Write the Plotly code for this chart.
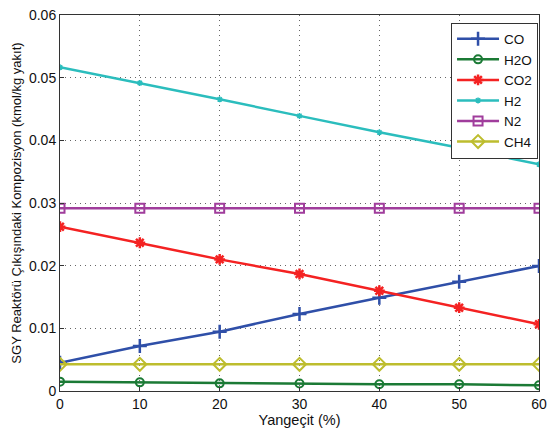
import plotly.graph_objects as go

x_vals = [0, 10, 20, 30, 40, 50, 60]
co = [0.00452, 0.00718, 0.00946, 0.0123, 0.01489, 0.01744, 0.01995]
h2o = [0.00149, 0.00138, 0.00122, 0.00120, 0.00107, 0.00107, 0.00090]
co2 = [0.02622, 0.02366, 0.02100, 0.01867, 0.01600, 0.01329, 0.01064]
h2 = [0.05165, 0.04915, 0.04655, 0.04390, 0.04128, 0.03880, 0.03617]
n2 = [0.02915, 0.02915, 0.02915, 0.02915, 0.02915, 0.02915, 0.02915]
ch4 = [0.00426, 0.00426, 0.00426, 0.00426, 0.00426, 0.00426, 0.00426]

series = [
    ("CO", co, "#2F4FA8", "cross-thin-open", 10, 2.5),
    ("H2O", h2o, "#1B7A35", "circle-open", 8, 2),
    ("CO2", co2, "#F42222", "asterisk-open", 9, 2.5),
    ("H2", h2, "#2BBDBD", "asterisk-open", 5, 1.5),
    ("N2", n2, "#A03D9C", "square-open", 9, 2),
    ("CH4", ch4, "#BDBD2E", "diamond-open", 10, 2),
]

fig = go.Figure()
for name, vals, color, sym, size, lw in series:
    fig.add_trace(go.Scatter(
        x=x_vals, y=vals, name=name, mode="lines+markers",
        line=dict(color=color, width=2.5),
        marker=dict(symbol=sym, size=size, color=color,
                    line=dict(color=color, width=lw)),
    ))

fig.update_layout(
    width=548, height=434,
    margin=dict(l=60, r=9, t=15, b=43),
    paper_bgcolor="white", plot_bgcolor="white",
    font=dict(family="Liberation Sans, Arial, sans-serif", size=14, color="#111111"),
    showlegend=True,
    legend=dict(x=0.998, y=0.98, xanchor="right", yanchor="top",
                bordercolor="#333333", borderwidth=1, bgcolor="white",
                font=dict(size=13.5), tracegroupgap=0, itemwidth=42),
)
fig.update_xaxes(
    range=[0, 60], tickvals=[0, 10, 20, 30, 40, 50, 60],
    showgrid=True, gridcolor="#666666", griddash="1px,4px", gridwidth=1,
    showline=True, linecolor="#333333", linewidth=1, mirror=True,
    ticks="inside", ticklen=4, tickcolor="#333333",
    zeroline=False, automargin=False, ticklabeloverflow="allow",
    title=dict(text="Yangeçit (%)", font=dict(size=14.5), standoff=2),
)
fig.update_yaxes(
    range=[0, 0.06], tickvals=[0, 0.01, 0.02, 0.03, 0.04, 0.05, 0.06],
    ticktext=["0", "0.01", "0.02", "0.03", "0.04", "0.05", "0.06"],
    showgrid=True, gridcolor="#666666", griddash="1px,4px", gridwidth=1,
    showline=True, linecolor="#333333", linewidth=1, mirror=True,
    ticks="inside", ticklen=4, tickcolor="#333333",
    zeroline=False, automargin=False, ticklabeloverflow="allow",
    title=dict(text="SGY Reaktörü Çıkışındaki Kompozisyon (kmol/kg yakıt)",
               font=dict(size=13), standoff=4),
)

fig.write_html(
    "out.html",
    config={"displayModeBar": False},
    post_script="document.body.style.margin='0';document.body.style.overflow='hidden';",
)
